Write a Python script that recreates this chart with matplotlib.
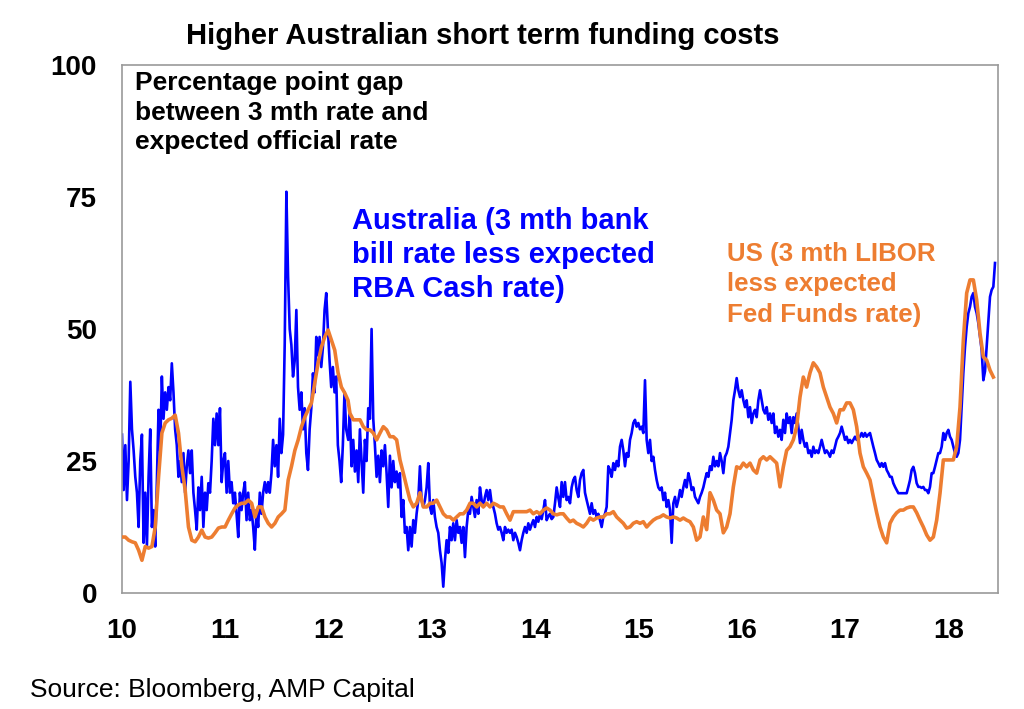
import numpy as np
import matplotlib
matplotlib.use('Agg')
import matplotlib.pyplot as plt

plt.rcParams['font.family'] = ['Liberation Sans', 'DejaVu Sans']

# Dates are years since 2000 (10 = start of 2010); each block is evenly spaced
# Australia: 3 mth bank bill rate less expected RBA cash rate (bp)
aus_spans = [(10.0, 12.17), (12.19, 14.24), (14.256, 16.273), (16.289, 18.451)]
aus_10_12 = [30, 19.5, 28, 17.6, 25, 40, 31, 27, 22, 19, 12.5, 25, 30, 9.5, 19, 8.8, 22, 31, 12.5, 15.7,
             8.8, 21, 34.7, 27, 41, 33, 38, 34.7, 39, 36.5, 43.5, 38, 31, 28, 22, 25, 21, 26.5, 19, 24,
             27, 22.7, 27, 19, 15.7, 12, 20, 15.7, 22, 12.5, 19, 15.7, 20.8, 19, 25, 33, 28, 34, 28, 35,
             21, 25, 26.5, 19, 25, 19, 21, 17, 19, 15, 10.6, 19, 15.7, 19, 21, 13.8, 19, 13.8, 15.7, 12.5,
             8.2, 15.7, 12.5, 19, 15, 19, 21, 19, 21, 19, 22.7, 29, 24, 28, 22, 33, 26.5, 30, 47.3, 76,
             60, 50, 47, 41, 44, 53.6, 39, 34.7, 38, 31, 35, 26.5, 23.3, 31, 35, 41.6, 38, 48.5, 45, 48.5,
             42.8, 46.6, 53.6, 56.8, 50, 44, 39, 42.8, 38, 41, 28, 25, 21, 28, 38, 31]
aus_12_14 = [29, 34, 24, 29, 23, 27, 21, 31, 25, 19, 29, 25, 35, 33, 50, 33, 28, 22, 26, 21,
             27, 24, 28, 22.7, 16.3, 26, 20, 25, 21, 23, 20, 22.7, 14.4, 17.6, 11.4, 12.5, 8.1, 12.5, 8.8, 13.8,
             11.4, 15, 17.6, 24, 17.6, 16.3, 17.6, 20, 24.6, 16.3, 15, 17.6, 14.4, 12.5, 11.4, 8.1, 5.7, 1.2, 6.2, 10,
             7.6, 12.5, 10, 13.2, 10, 13.8, 11.4, 12.5, 9.5, 12.5, 6.8, 12.5, 15.7, 15, 18.2, 16.3, 14.4, 17.6, 15, 20,
             17.6, 16.3, 18.2, 19.5, 17.6, 19.5, 17, 16.3, 15, 13.2, 12, 12.5, 11.4, 10, 12.5, 11.4, 12, 11.4, 12, 10,
             11.4, 10.6, 9.5, 8.1, 10, 11.4, 12.5, 11.4, 13.2, 12, 13, 13.8, 12.5, 14.4, 13.5, 15, 14, 15.7, 17.6, 13.8,
             14.5, 15, 14, 14.4, 17, 20, 18, 16.3]
aus_14_16 = [21, 18.2, 21, 17.6, 18.2, 17, 20, 21.4, 22, 19.5, 18.2, 21.4, 22.7, 23.3, 19, 17.6, 16.3, 15, 17, 15,
             15.7, 14.4, 15, 13.8, 12.5, 14.4, 15, 16.3, 24, 23.3, 22, 24.6, 23.3, 25, 24, 27.7, 29, 27, 24, 26.5,
             25.8, 29, 30.3, 32.2, 32.8, 31.5, 32.2, 31, 31.5, 30.3, 40.3, 29, 26.5, 29, 25, 25.8, 23.3, 21.4, 20, 19.5,
             20, 17.6, 19, 16.3, 17.6, 15.7, 9.5, 17, 18.2, 16.3, 17.6, 19.5, 18.2, 20, 21.4, 20, 22.7, 21.4, 19.5, 20,
             18.2, 17.6, 17, 18.2, 19, 20, 21.4, 22.7, 22, 24, 23.3, 25.8, 24, 25, 24, 26.5, 25, 22.7, 25.8, 26.5,
             27.7, 30.3, 32.8, 36.5, 38.4, 40.7, 38.4, 37.1, 38.4, 36.5, 35.2, 36.5, 33.3, 35.2, 32.2, 34, 34.7, 33.3, 36.5, 38.4,
             36.5, 34.7, 34, 35.2, 32.8, 34]
aus_16_18 = [32.2, 34, 30.3, 31.5, 29.6, 30.9, 29, 32.8, 30.3, 34, 32.2, 33.3, 30.3, 33.3, 32.2, 34, 31.5, 28.4, 30.9, 29,
             27.7, 28.4, 26.5, 27, 25.8, 27.7, 26.5, 27, 26.5, 27.7, 29, 27.7, 26.5, 27, 26.5, 25.8, 27, 26.5, 27.7, 29,
             29.6, 30.3, 31.5, 30.3, 29, 29.6, 28.4, 29, 28.4, 29, 29.6, 29, 29.3, 29.6, 30.3, 29.6, 30.3, 29.6, 30, 30.3,
             29, 27.7, 26.5, 25.2, 24.6, 23.9, 24.6, 23.9, 24.6, 23.3, 22.7, 22, 22, 20.8, 20.1, 19.5, 18.9, 18.9, 18.9, 18.9,
             18.9, 18.9, 20.1, 21.4, 23.3, 23.9, 22.7, 20.8, 20.1, 20.1, 19.9, 20.1, 19.5, 19.5, 18.9, 20.1, 22.7, 22.7, 23.9, 25.2,
             26.5, 26.5, 27.7, 30.3, 29, 30.3, 30.9, 29.6, 29, 27.7, 26.5, 25.8, 26.5, 29, 35.2, 41.7, 46.6, 50.4, 53, 54.2,
             56.1, 56.8, 54.2, 53, 51.1, 48.5, 46, 40.3, 42, 46.6, 51.1, 56.1, 57.4, 58, 62.5]

# US: 3 mth LIBOR less expected Fed Funds rate (bp)
us_spans = [(10.0, 12.188), (12.207, 14.24), (14.272, 16.273), (16.305, 18.435)]
us_10_12 = [10.6, 10.6, 10, 9.7, 9.5, 8.1, 6.2, 8.8, 8.5, 8.8, 12.5, 22, 30.3, 32.2, 32.8, 33.1, 33.7, 30.3, 24, 19.5,
            12.5, 10, 9.7, 10.6, 11.9, 10.6, 10.4, 10.6, 11.4, 12.3, 12.5, 12.5, 13.8, 15, 16.1, 16.7, 17, 17, 17.6, 17,
            14.4, 16.3, 16.3, 14.4, 13.2, 12.5, 13.2, 14.4, 15, 15.7, 21.4, 24, 27, 29, 31.5, 33.3, 34.7, 36, 39.8, 43.6,
            46.6, 48.5, 49.8, 47.9, 46, 41.7, 39, 37.9, 36.5]
us_12_14 = [34, 32.8, 32.8, 32.8, 31.5, 30.9, 30.9, 30.3, 29, 30.3, 31.5, 30.9, 29.6, 29.6, 29, 25.2, 22.7, 20.1, 17.6, 16.3,
            17, 19, 16.3, 16.3, 17, 17, 17.6, 16.3, 15, 14.4, 14.4, 13.8, 14.4, 15, 15, 15.7, 17, 17, 16.3, 17,
            16.3, 17, 16.3, 17, 16.7, 16.3, 16.3, 15, 13.8, 15.4, 15.4, 15.4, 15.4, 15.4, 15.7, 15, 15.4, 15, 15.7, 16.1,
            15.7, 15, 14.8, 15]
us_14_16 = [15, 14.2, 13.5, 13.8, 13.2, 12.9, 12.5, 13.2, 14.2, 13.8, 14.2, 14.4, 14.4, 15, 15, 15.4, 14.4, 13.8, 13.2, 12.3,
            12.5, 13.2, 13.5, 13.2, 13.5, 12.5, 13.2, 13.8, 14.2, 14.4, 14.8, 14.4, 14.2, 14.4, 14.2, 13.8, 14.2, 13.8, 13.5, 12.5,
            10, 10.6, 14.4, 12, 19, 17.6, 15.7, 15, 11.4, 12.5, 15, 20.1, 23.9, 23.6, 24.6, 23.9, 24.6, 23.3, 22.7, 25.2,
            25.8, 25.2, 25.8]
us_16_18 = [25.2, 24.6, 20.1, 23.9, 27, 27.7, 29, 31.5, 37.1, 40.9, 39, 41.7, 43.6, 42.8, 41.7, 39, 37.1, 35.2, 34, 32.2,
            34.7, 34.7, 36, 36, 34.7, 31.5, 26.5, 23.9, 22.7, 21.4, 18.2, 15.2, 12.5, 10.6, 9.5, 13.2, 14.4, 15.2, 15.7, 15.7,
            16.1, 16.3, 16.3, 15.2, 13.8, 12.5, 11, 10, 10.6, 13.8, 18.9, 25.2, 25.2, 25.2, 25.2, 27.7, 35.2, 47.9, 56.8, 59.3,
            59.3, 55.5, 49.2, 44.7, 44.1, 42.2, 40.9]

year_ticks = [10, 11, 12, 13, 14, 15, 16, 17, 18]
y_ticks = [0, 25, 50, 75, 100]

AUS_BLUE = '#0000ff'
US_ORANGE = '#ed7d31'


def build(spans, blocks):
    x = np.concatenate([np.linspace(a, b, len(v)) for (a, b), v in zip(spans, blocks)])
    y = np.concatenate([np.asarray(v, dtype=float) for v in blocks])
    return x, y


aus_x, aus_y = build(aus_spans, [aus_10_12, aus_12_14, aus_14_16, aus_16_18])
us_x, us_y = build(us_spans, [us_10_12, us_12_14, us_14_16, us_16_18])

fig = plt.figure(figsize=(10.24, 7.09), dpi=100)
ax = fig.add_axes([122 / 1024, 1 - 593 / 709, 876 / 1024, 528 / 709])

ax.plot(aus_x, aus_y, color=AUS_BLUE, lw=1.9, zorder=2)
ax.plot(us_x, us_y, color=US_ORANGE, lw=2.6, zorder=3)

ax.set_xlim(10, 18.48)
ax.set_ylim(0, 100)
ax.set_xticks(year_ticks)
ax.set_xticklabels([str(t) for t in year_ticks])
ax.set_yticks(y_ticks)
ax.tick_params(length=0, labelsize=20, pad=18)
for lab in ax.get_xticklabels() + ax.get_yticklabels():
    lab.set_fontweight('bold')
for sp in ax.spines.values():
    sp.set_color('#9a9a9a')
    sp.set_linewidth(1.2)

fig.text(483 / 1024, 1 - 36 / 709, 'Higher Australian short term funding costs',
         ha='center', va='center', fontsize=21, fontweight='bold')
fig.text(135 / 1024, 1 - 71 / 709, 'Percentage point gap\nbetween 3 mth rate and\nexpected official rate',
         ha='left', va='top', fontsize=19, fontweight='bold', linespacing=1.3)
fig.text(352 / 1024, 1 - 207 / 709, 'Australia (3 mth bank\nbill rate less expected\nRBA Cash rate)',
         ha='left', va='top', fontsize=21, fontweight='bold', color=AUS_BLUE, linespacing=1.28)
fig.text(727 / 1024, 1 - 242 / 709, 'US (3 mth LIBOR\nless expected\nFed Funds rate)',
         ha='left', va='top', fontsize=18.6, fontweight='bold', color=US_ORANGE, linespacing=1.33)
fig.text(30 / 1024, 1 - 690 / 709, 'Source: Bloomberg, AMP Capital',
         ha='left', va='center', fontsize=19)

fig.savefig('out.png', dpi=100)
